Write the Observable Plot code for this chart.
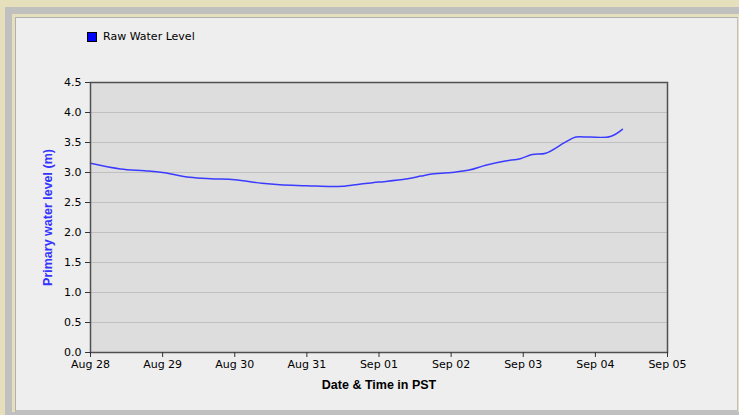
<!DOCTYPE html>
<html><head><meta charset="utf-8">
<script src="https://cdn.jsdelivr.net/npm/d3@7"></script>
<script src="https://cdn.jsdelivr.net/npm/@observablehq/plot@0.6"></script>
<style>
html,body{margin:0;padding:0;}
body{width:739px;height:415px;overflow:hidden;background:#e6dfbb;position:relative;font-family:"DejaVu Sans",sans-serif;}
#band{position:absolute;left:5px;top:7px;width:760px;height:420px;background:#c0c0c0;}
#gap{position:absolute;left:12px;top:14px;width:760px;height:398px;background:#e6dfbb;}
#panel{position:absolute;left:15px;top:17px;width:721px;height:392px;background:#eeeeee;border-left:1px solid #b0b0b0;border-top:1px solid #b0b0b0;border-right:1px solid #c0c0c0;border-bottom:3px solid #c0c0c0;}
#chart{position:absolute;left:0;top:0;}
#legend{position:absolute;left:87px;top:30px;display:flex;align-items:center;font:11px "DejaVu Sans",sans-serif;color:#000;}
#legend .sw{width:8px;height:8px;background:#0000ff;border:1px solid #000;margin-right:6px;}
g[aria-label="y-axis label"] text{fill:#3333ff;font-weight:bold;font-size:12.5px;font-family:"Liberation Sans",Arial,sans-serif;}
g[aria-label="x-axis label"] text{fill:#000;font-weight:bold;font-size:12.5px;font-family:"Liberation Sans",Arial,sans-serif;}
</style>
</head><body>
<div id="band"></div><div id="gap"></div><div id="panel"></div>
<div id="chart"></div>
<div id="legend"><div class="sw"></div><span>Raw Water Level</span></div>
<script>
const times = [
  "2013-08-28T00:00Z","2013-08-28T10:00Z","2013-08-28T18:00Z",
  "2013-08-29T00:00Z","2013-08-29T09:00Z","2013-08-29T16:00Z",
  "2013-08-30T00:00Z","2013-08-30T09:00Z","2013-08-30T15:00Z",
  "2013-08-31T00:00Z","2013-08-31T08:00Z","2013-08-31T12:00Z","2013-08-31T18:00Z",
  "2013-09-01T00:00Z","2013-09-01T09:00Z","2013-09-01T14:00Z","2013-09-01T17:00Z",
  "2013-09-02T00:00Z","2013-09-02T06:00Z","2013-09-02T11:30Z","2013-09-02T18:00Z","2013-09-02T23:00Z",
  "2013-09-03T03:00Z","2013-09-03T07:30Z","2013-09-03T14:00Z","2013-09-03T17:30Z","2013-09-03T22:00Z",
  "2013-09-04T05:00Z","2013-09-04T09:00Z"
];
const levels = [
  3.155, 3.06, 3.03,
  3.00, 2.92, 2.895,
  2.88, 2.82, 2.795,
  2.78, 2.765, 2.77, 2.81,
  2.84, 2.89, 2.94, 2.97,
  3.00, 3.04, 3.12, 3.19, 3.23,
  3.30, 3.32, 3.505, 3.59, 3.59,
  3.60, 3.72
];
const xTickLabels = ["2013-08-28","2013-08-29","2013-08-30","2013-08-31","2013-09-01","2013-09-02","2013-09-03","2013-09-04","2013-09-05"];
const yTickValues = [0,0.5,1,1.5,2,2.5,3,3.5,4,4.5];
const seriesName = "Raw Water Level";
const yTitle = "Primary water level (m)";
const xTitle = "Date & Time in PST";

const data = times.map((t,i)=>({t:new Date(t), v:levels[i]}));
const xTicks = xTickLabels.map(d=>new Date(d+"T00:00Z"));

const chart = Plot.plot({
  width:739, height:415,
  marginLeft:90, marginRight:72, marginTop:82, marginBottom:63,
  style:{background:"transparent", fontFamily:"DejaVu Sans", fontSize:"11px", color:"#000", overflow:"visible"},
  x:{type:"utc", domain:[xTicks[0], xTicks[xTicks.length-1]]},
  y:{domain:[0,4.5]},
  marks:[
    Plot.frame({fill:"#dddddd", stroke:null}),
    Plot.gridY(yTickValues, {stroke:"#c0c0c0", strokeOpacity:1}),
    Plot.line(data, {x:"t", y:"v", stroke:"#3b3bff", strokeWidth:1.5, curve:"catmull-rom"}),
    Plot.frame({stroke:"#505050", strokeWidth:1.5}),
    Plot.axisY(yTickValues, {tickFormat:d3.format(".1f"), tickSize:5, tickPadding:4, stroke:"#333",
      label:yTitle, labelAnchor:"center", labelArrow:"none", labelOffset:47}),
    Plot.axisX(xTicks, {tickFormat:d3.utcFormat("%b %d"), tickSize:5, tickPadding:3, stroke:"#333",
      label:xTitle, labelAnchor:"center", labelArrow:"none", labelOffset:36})
  ]
});
document.getElementById("chart").appendChild(chart);
</script>
</body></html>
